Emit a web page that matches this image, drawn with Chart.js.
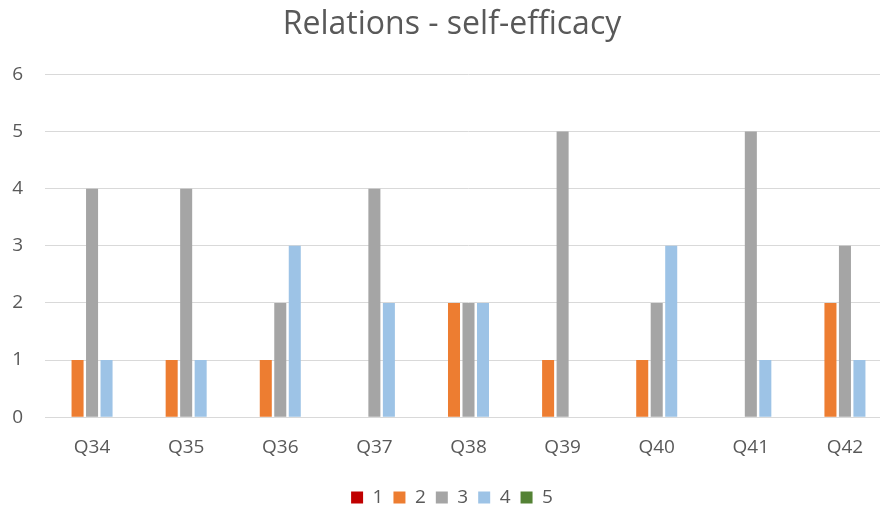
<!DOCTYPE html>
<html lang="en">
<head>
    <meta charset="UTF-8">
    <title>Relations - self-efficacy</title>
    <script src="https://cdn.jsdelivr.net/npm/chart.js"></script>
    <style>
        html, body { margin: 0; padding: 0; background: #ffffff; overflow: hidden; }
        /* the original chart is wider than the picture, it is cut off on the right */
        #wrap { width: 922px; height: 514px; }
    </style>
</head>
<body>
    <div id="wrap"><canvas id="chart"></canvas></div>

    <script>
        // Data
        const questions = ['Q34', 'Q35', 'Q36', 'Q37', 'Q38', 'Q39', 'Q40', 'Q41', 'Q42'];
        const answer1 = [0, 0, 0, 0, 0, 0, 0, 0, 0];
        const answer2 = [1, 1, 1, 0, 2, 1, 1, 0, 2];
        const answer3 = [4, 4, 2, 4, 2, 5, 2, 5, 3];
        const answer4 = [1, 1, 3, 2, 2, 0, 3, 1, 1];
        const answer5 = [0, 0, 0, 0, 0, 0, 0, 0, 0];
        const yTicks = [0, 1, 2, 3, 4, 5, 6];

        const textColor = '#595959';

        const ctx = document.getElementById('chart').getContext('2d');
        new Chart(ctx, {
            type: 'bar',
            data: {
                labels: questions,
                datasets: [
                    { label: '1', data: answer1, backgroundColor: '#c00000' },
                    { label: '2', data: answer2, backgroundColor: '#ed7d31' },
                    { label: '3', data: answer3, backgroundColor: '#a5a5a5' },
                    { label: '4', data: answer4, backgroundColor: '#9dc3e6' },
                    { label: '5', data: answer5, backgroundColor: '#548235' }
                ]
            },
            options: {
                responsive: true,
                maintainAspectRatio: false,
                animation: false,
                datasets: {
                    bar: { categoryPercentage: 0.77, barPercentage: 0.83 }
                },
                layout: { padding: { left: 12, right: 30, top: 6, bottom: -3 } },
                plugins: {
                    title: {
                        display: true,
                        text: 'Relations - self-efficacy',
                        color: textColor,
                        font: { family: 'Open Sans', size: 32, weight: 'normal' },
                        padding: { top: 0, bottom: 30 }
                    },
                    legend: {
                        position: 'bottom',
                        labels: {
                            color: textColor,
                            font: { family: 'Open Sans', size: 19 },
                            boxWidth: 12,
                            boxHeight: 12,
                            padding: 10
                        }
                    },
                    tooltip: { enabled: false }
                },
                scales: {
                    x: {
                        grid: { display: false, drawTicks: false },
                        border: { color: '#d9d9d9', width: 1 },
                        ticks: {
                            color: textColor,
                            font: { family: 'Open Sans', size: 19 },
                            padding: 19
                        }
                    },
                    y: {
                        min: 0,
                        max: 6,
                        afterBuildTicks: axis => { axis.ticks = yTicks.map(v => ({ value: v })); },
                        afterFit: axis => { axis.width = 33; },
                        grid: { color: '#d9d9d9', drawTicks: false },
                        border: { display: false },
                        ticks: {
                            color: textColor,
                            font: { family: 'Open Sans', size: 19 },
                            padding: 22
                        }
                    }
                }
            }
        });
    </script>
</body>
</html>
